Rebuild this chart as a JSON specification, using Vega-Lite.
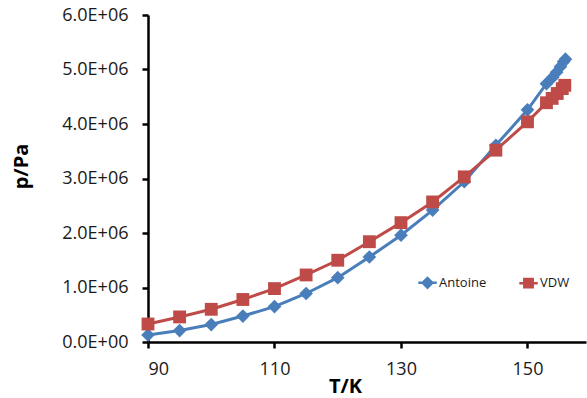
{
  "$schema": "https://vega.github.io/schema/vega-lite/v6.json",
  "autosize": "none",
  "width": 438,
  "height": 327,
  "padding": {"left": 148, "top": 15, "right": 1, "bottom": 56},
  "background": "white",
  "config": {
    "view": {"stroke": null},
    "font": "Open Sans"
  },
  "data": {
    "values": [
      {"T": 90, "p": 128000, "series": "Antoine"},
      {"T": 95, "p": 210000, "series": "Antoine"},
      {"T": 100, "p": 320000, "series": "Antoine"},
      {"T": 105, "p": 476000, "series": "Antoine"},
      {"T": 110, "p": 650000, "series": "Antoine"},
      {"T": 115, "p": 890000, "series": "Antoine"},
      {"T": 120, "p": 1180000, "series": "Antoine"},
      {"T": 125, "p": 1560000, "series": "Antoine"},
      {"T": 130, "p": 1960000, "series": "Antoine"},
      {"T": 135, "p": 2420000, "series": "Antoine"},
      {"T": 140, "p": 2940000, "series": "Antoine"},
      {"T": 145, "p": 3610000, "series": "Antoine"},
      {"T": 150, "p": 4260000, "series": "Antoine"},
      {"T": 153, "p": 4740000, "series": "Antoine"},
      {"T": 154, "p": 4860000, "series": "Antoine"},
      {"T": 154.6, "p": 4950000, "series": "Antoine"},
      {"T": 155.2, "p": 5050000, "series": "Antoine"},
      {"T": 155.7, "p": 5140000, "series": "Antoine"},
      {"T": 156, "p": 5190000, "series": "Antoine"},
      {"T": 90, "p": 330000, "series": "VDW"},
      {"T": 95, "p": 460000, "series": "VDW"},
      {"T": 100, "p": 600000, "series": "VDW"},
      {"T": 105, "p": 780000, "series": "VDW"},
      {"T": 110, "p": 980000, "series": "VDW"},
      {"T": 115, "p": 1230000, "series": "VDW"},
      {"T": 120, "p": 1500000, "series": "VDW"},
      {"T": 125, "p": 1840000, "series": "VDW"},
      {"T": 130, "p": 2190000, "series": "VDW"},
      {"T": 135, "p": 2570000, "series": "VDW"},
      {"T": 140, "p": 3030000, "series": "VDW"},
      {"T": 145, "p": 3520000, "series": "VDW"},
      {"T": 150, "p": 4040000, "series": "VDW"},
      {"T": 153, "p": 4390000, "series": "VDW"},
      {"T": 153.9, "p": 4470000, "series": "VDW"},
      {"T": 154.7, "p": 4560000, "series": "VDW"},
      {"T": 155.5, "p": 4650000, "series": "VDW"},
      {"T": 155.9, "p": 4710000, "series": "VDW"}
    ]
  },
  "encoding": {
    "x": {
      "field": "T", "type": "quantitative",
      "scale": {"domain": [90, 159.25], "nice": false, "zero": false},
      "axis": {"values": [90, 110, 130, 150], "title": "T/K", "grid": false,
        "domainColor": "black", "domainWidth": 2.5, "tickColor": "black", "tickWidth": 2.5, "tickSize": 6,
        "labelFont": "Open Sans", "labelFontSize": 18, "labelColor": "#1a1a1a", "labelPadding": 12,
        "titleFont": "Open Sans", "titleFontWeight": "bold", "titleFontSize": 20, "titleColor": "black",
        "titleX": 197, "titleY": 50, "titleBaseline": "alphabetic", "titleAnchor": "middle", "titleAlign": "center"}
    },
    "y": {
      "field": "p", "type": "quantitative",
      "scale": {"domain": [0, 6000000], "nice": false},
      "axis": {"values": [0, 1000000, 2000000, 3000000, 4000000, 5000000, 6000000], "grid": false,
        "labelExpr": "datum.value == 0 ? '0.0E+00' : format(datum.value / 1000000, '.1f') + 'E+06'",
        "domainColor": "black", "domainWidth": 2.5, "tickColor": "black", "tickWidth": 2.5, "tickSize": 6,
        "labelFont": "Open Sans", "labelFontSize": 18, "labelColor": "#1a1a1a", "labelPadding": 14,
        "titleFont": "Open Sans", "titleFontWeight": "bold", "titleFontSize": 20, "titleColor": "black",
        "title": "p/Pa", "titleX": -127, "titleY": 151, "titleAngle": -90, "titleAlign": "center", "titleBaseline": "middle"}
    },
    "color": {
      "field": "series", "type": "nominal",
      "scale": {"domain": ["Antoine", "VDW"], "range": ["#4A7EBB", "#BE4B48"]},
      "legend": {
        "title": null, "orient": "none", "direction": "horizontal",
        "legendX": 273, "legendY": 261, "padding": 0,
        "labelFont": "Open Sans", "labelFontSize": 13, "labelColor": "#1a1a1a",
        "symbolSize": 64, "symbolStrokeWidth": 2.5, "labelOffset": 5, "columnPadding": 27,
        "encode": {
          "symbols": {
            "update": {
              "shape": {"signal": "datum.value === 'Antoine' ? 'M-2.3,0H2.3M0,-1.2L1.2,0L0,1.2L-1.2,0Z' : 'M-2.3,0H2.3M-1.05,-1.05H1.05V1.05H-1.05Z'"},
              "stroke": {"signal": "datum.value === 'Antoine' ? '#4A7EBB' : '#BE4B48'"},
              "strokeWidth": {"value": 2.5},
              "size": {"value": 64},
              "opacity": {"value": 1}
            }
          }
        }
      }
    }
  },
  "layer": [
    {
      "mark": {"type": "line", "strokeWidth": 3}
    },
    {
      "transform": [{"filter": "datum.series === 'Antoine'"}],
      "mark": {"type": "point", "filled": true, "opacity": 1, "size": 170, "shape": "M0,-1.05L1.05,0L0,1.05L-1.05,0Z"}
    },
    {
      "transform": [{"filter": "datum.series === 'VDW'"}],
      "mark": {"type": "point", "filled": true, "opacity": 1, "size": 165, "shape": "square"}
    }
  ]
}
